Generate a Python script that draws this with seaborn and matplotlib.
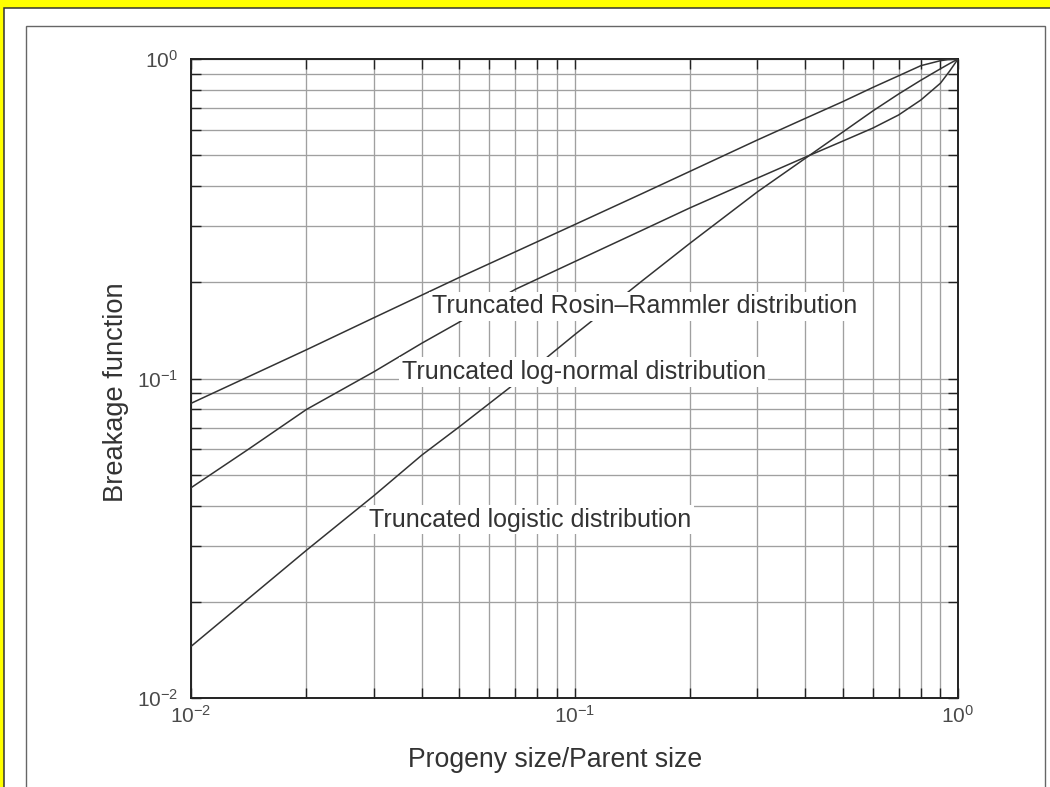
import matplotlib
matplotlib.use("Agg")
import matplotlib.pyplot as plt
import matplotlib.ticker as mticker
from matplotlib.patches import Rectangle
import numpy as np
import pandas as pd
import seaborn as sns

# ---------------- data ----------------
rr_x = [0.01, 0.02, 0.03, 0.05, 0.07, 0.1, 0.15, 0.2, 0.3, 0.4,
        0.5, 0.6, 0.7, 0.8, 0.9, 0.95, 1.0]
rosin_rammler = [0.0836, 0.123, 0.155, 0.207, 0.249, 0.303, 0.379, 0.445,
                 0.558, 0.652, 0.735, 0.815, 0.886, 0.953, 0.988, 0.997, 1.0]

ln_x = [0.01, 0.0141, 0.02, 0.03, 0.04, 0.05, 0.07, 0.1, 0.15, 0.2, 0.3,
        0.4, 0.5, 0.6, 0.7, 0.8, 0.9, 0.95, 1.0]
log_normal = [0.0455, 0.060, 0.080, 0.105, 0.129, 0.150, 0.190, 0.232, 0.291,
              0.342, 0.424, 0.493, 0.553, 0.608, 0.668, 0.744, 0.840, 0.915, 1.0]

lg_x = [0.01, 0.02, 0.03, 0.04, 0.05, 0.07, 0.1, 0.15, 0.2, 0.3, 0.4,
        0.5, 0.6, 0.7, 0.8, 0.9, 0.95, 1.0]
logistic = [0.0145, 0.0290, 0.0430, 0.0576, 0.0705, 0.0965, 0.137, 0.202,
            0.265, 0.384, 0.489, 0.590, 0.688, 0.777, 0.858, 0.932, 0.967, 1.0]

series_names = ["Truncated Rosin\u2013Rammler distribution",
                "Truncated log-normal distribution",
                "Truncated logistic distribution"]
x_label = "Progeny size/Parent size"
y_label = "Breakage function"

df = pd.DataFrame({
    "x": rr_x + ln_x + lg_x,
    "y": rosin_rammler + log_normal + logistic,
    "series": [series_names[0]] * len(rr_x)
              + [series_names[1]] * len(ln_x)
              + [series_names[2]] * len(lg_x),
})

# ---------------- style ----------------
sns.set_theme(style="white")
plt.rcParams["font.family"] = ["Liberation Sans", "DejaVu Sans"]
plt.rcParams["mathtext.fontset"] = "custom"
plt.rcParams["mathtext.rm"] = "Liberation Sans"
plt.rcParams["mathtext.it"] = "Liberation Sans:italic"
plt.rcParams["mathtext.bf"] = "Liberation Sans:bold"
plt.rcParams["mathtext.sf"] = "Liberation Sans"

DPI = 100
fig = plt.figure(figsize=(10.5, 7.87), dpi=DPI, facecolor="#ffff00")
W, H = 1050, 787

# white sheet with dark border (top and left visible) on yellow background
fig.patches.append(Rectangle((3.5 / W, -0.05), 1.2, (H - 8.3) / H + 0.05,
                             transform=fig.transFigure, facecolor="white",
                             edgecolor="#333333", linewidth=1.1, zorder=-3))
# inner thin frame
fig.patches.append(Rectangle((26 / W, -0.05), (1045 - 26) / W, (H - 26) / H + 0.05,
                             transform=fig.transFigure, facecolor="none",
                             edgecolor="#666666", linewidth=1.0, zorder=-2))

ax = fig.add_axes([191 / W, 1 - 698 / H, (958 - 191) / W, (698 - 59) / H])
ax.set_facecolor("white")

sns.lineplot(data=df, x="x", y="y", hue="series",
             palette=["#333333"] * 3, linewidth=1.1, legend=False,
             ax=ax, zorder=3, sort=True)

ax.set_xscale("log")
ax.set_yscale("log")
ax.set_xlim(0.01, 1.0)
ax.set_ylim(0.01, 1.0)

ax.xaxis.set_major_locator(mticker.LogLocator(base=10, numticks=10))
ax.yaxis.set_major_locator(mticker.LogLocator(base=10, numticks=10))
ax.xaxis.set_minor_locator(mticker.LogLocator(base=10, subs=np.arange(2, 10), numticks=20))
ax.yaxis.set_minor_locator(mticker.LogLocator(base=10, subs=np.arange(2, 10), numticks=20))
ax.xaxis.set_minor_formatter(mticker.NullFormatter())
ax.yaxis.set_minor_formatter(mticker.NullFormatter())

ax.grid(True, which="both", color="#a0a0a0", linewidth=0.95, zorder=0)
ax.set_axisbelow(True)

ax.tick_params(which="both", direction="in", top=True, right=True,
               bottom=True, left=True, length=7, width=1.0, color="#222222")
ax.tick_params(axis="both", which="major", labelsize=15, labelcolor="#4a4a4a", pad=9)
ax.tick_params(axis="x", which="major", pad=5)

for sp in ax.spines.values():
    sp.set_visible(True)
    sp.set_color("#222222")
    sp.set_linewidth(1.4)

ax.set_xlabel(x_label, fontsize=19.2, color="#333333")
ax.set_ylabel(y_label, fontsize=19.6, color="#333333")
ax.xaxis.set_label_coords(0.475, -0.0767)
ax.yaxis.set_label_coords(-0.081, 0.478)

# curve labels with white boxes (they interrupt lines and grid)
label_pos = [(0.0424, 0.160), (0.0354, 0.0996), (0.0291, 0.0344)]
for name, (tx, ty) in zip(series_names, label_pos):
    ax.text(tx, ty, name, fontsize=18, color="#333333", ha="left", va="baseline",
            zorder=4, bbox=dict(facecolor="white", edgecolor="none", pad=2.0))

fig.savefig("out.png", dpi=DPI, facecolor=fig.get_facecolor())
